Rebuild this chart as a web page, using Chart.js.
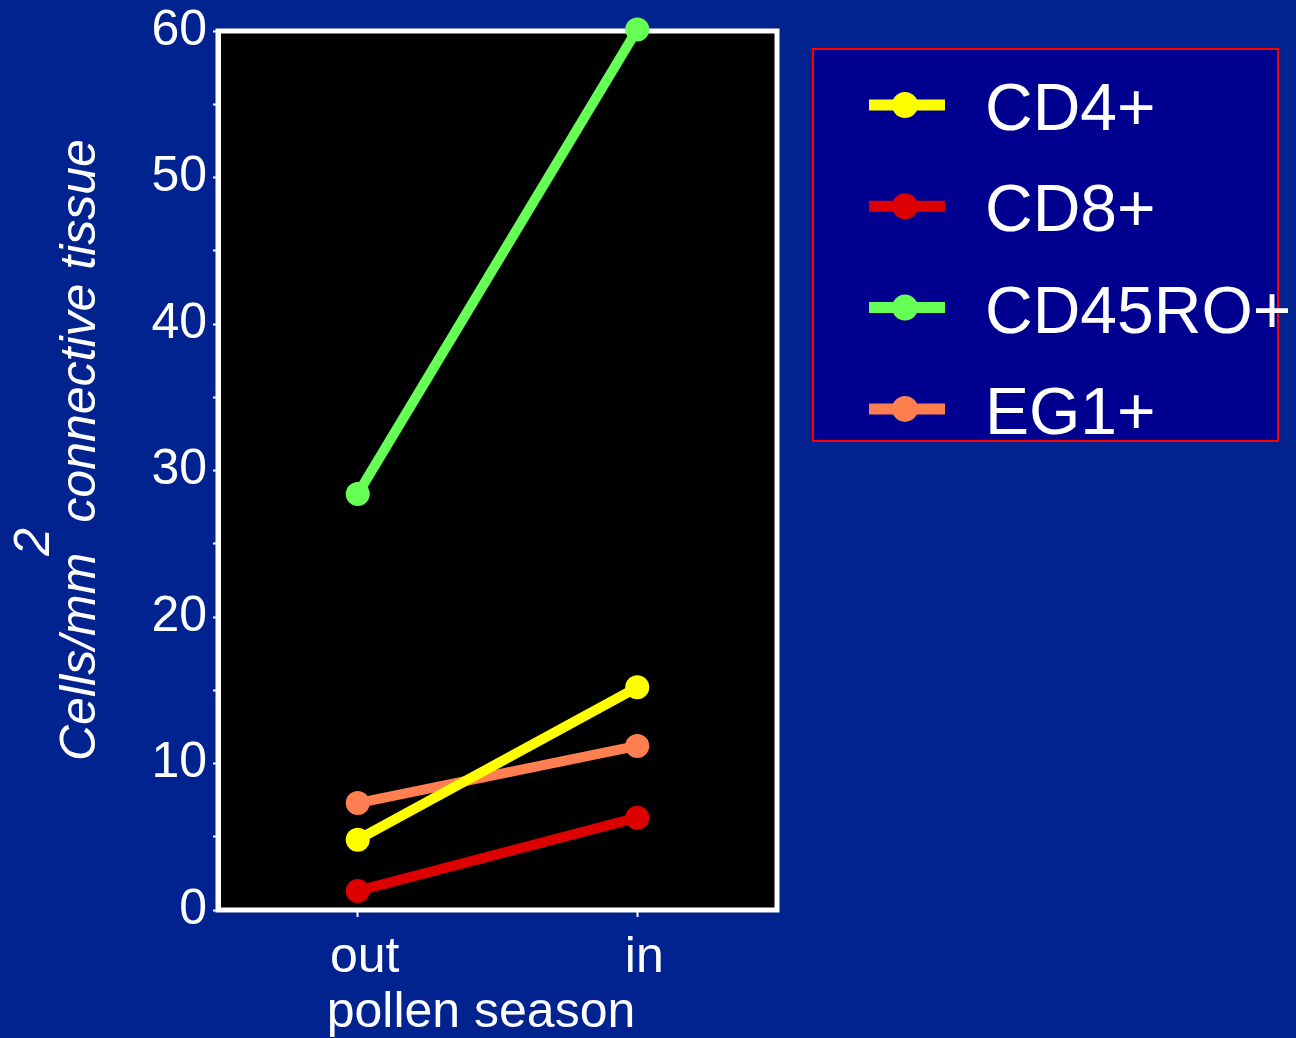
<!DOCTYPE html>
<html>
<head>
<meta charset="utf-8">
<script src="https://cdn.jsdelivr.net/npm/chart.js@4.4.1/dist/chart.umd.min.js"></script>
<style>
  html, body { margin: 0; padding: 0; background: #00238f; }
</style>
</head>
<body>
<canvas id="chart" width="1296" height="1038"></canvas>
<script>
// Data
const seasons = ['out', 'in'];
const seriesNames = ['CD4+', 'CD8+', 'CD45RO+', 'EG1+'];
const cd4 = [4.8, 15.2];
const cd8 = [1.3, 6.3];
const cd45ro = [28.4, 60.1];
const eg1 = [7.3, 11.2];
const yMajorTicks = [0, 10, 20, 30, 40, 50, 60];

const seriesColors = ['#ffff00', '#dd0000', '#66ff55', '#ff7f50'];
const seriesValues = [cd4, cd8, cd45ro, eg1];

const FONT = '"Liberation Sans", Arial, sans-serif';
const BG = '#00238f';

// background, black plot box and white frame
const framePlugin = {
  id: 'frame',
  beforeDraw(chart) {
    const { ctx, chartArea: a } = chart;
    ctx.save();
    ctx.fillStyle = BG;
    ctx.fillRect(0, 0, chart.width, chart.height);
    ctx.fillStyle = '#000';
    ctx.fillRect(a.left, a.top, a.right - a.left, a.bottom - a.top);
    ctx.restore();
  },
  beforeDatasetsDraw(chart) {
    const { ctx, chartArea: a } = chart;
    ctx.save();
    ctx.strokeStyle = '#fff';
    ctx.lineWidth = 5;
    ctx.strokeRect(a.left, a.top, a.right - a.left, a.bottom - a.top);
    ctx.restore();
  }
};

// axis titles (with the raised "2") and the boxed legend
const textPlugin = {
  id: 'texts',
  afterDraw(chart) {
    const ctx = chart.ctx;
    ctx.save();
    ctx.fillStyle = '#fff';

    // y title
    ctx.save();
    ctx.font = 'italic 50px ' + FONT;
    ctx.translate(81, 761);
    ctx.rotate(-Math.PI / 2);
    ctx.textAlign = 'left';
    ctx.textBaseline = 'middle';
    ctx.fillText('Cells/mm', 0, 0);
    const w1 = ctx.measureText('Cells/mm').width;
    ctx.fillText('2', w1 - 3, -46);
    ctx.fillText('connective tissue', w1 + 30, 0);
    ctx.restore();

    // x title
    ctx.font = '50px ' + FONT;
    ctx.textAlign = 'center';
    ctx.textBaseline = 'alphabetic';
    ctx.fillText('pollen season', 481, 1027);

    // legend box
    ctx.fillStyle = '#000090';
    ctx.fillRect(813, 49, 465, 392);
    ctx.strokeStyle = '#ff0000';
    ctx.lineWidth = 2;
    ctx.strokeRect(813, 49, 465, 392);

    chart.data.datasets.forEach((ds, i) => {
      const cy = 105 + i * 101.3;
      ctx.strokeStyle = ds.borderColor;
      ctx.lineWidth = 11;
      ctx.beginPath();
      ctx.moveTo(869, cy);
      ctx.lineTo(945, cy);
      ctx.stroke();
      ctx.fillStyle = ds.borderColor;
      ctx.beginPath();
      ctx.arc(905, cy, 13, 0, Math.PI * 2);
      ctx.fill();
      ctx.fillStyle = '#fff';
      ctx.font = '66px ' + FONT;
      ctx.textAlign = 'left';
      ctx.textBaseline = 'alphabetic';
      ctx.fillText(ds.label, 985, cy + 25);
    });
    ctx.restore();
  }
};

const datasets = seriesNames.map((name, i) => ({
  label: name,
  data: seriesValues[i],
  borderColor: seriesColors[i],
  backgroundColor: seriesColors[i],
  pointBackgroundColor: seriesColors[i],
  pointBorderColor: seriesColors[i],
  borderWidth: 10,
  borderCapStyle: 'butt',
  pointRadius: 12,
  pointBorderWidth: 0,
  tension: 0,
  clip: false
}));

new Chart(document.getElementById('chart'), {
  type: 'line',
  data: { labels: seasons, datasets: datasets },
  plugins: [framePlugin, textPlugin],
  options: {
    responsive: false,
    animation: false,
    layout: { padding: { left: 0, top: 28, right: 519, bottom: 0 } },
    plugins: {
      legend: { display: false },
      tooltip: { enabled: false }
    },
    scales: {
      x: {
        type: 'category',
        offset: true,
        grid: {
          drawOnChartArea: false,
          drawTicks: true,
          tickLength: 7,
          tickColor: '#fff',
          tickWidth: 2
        },
        border: { display: false },
        ticks: {
          color: '#fff',
          font: { family: FONT, size: 50, lineHeight: 1.2 },
          padding: 11,
          labelOffset: 7,
          maxRotation: 0
        },
        afterFit(s) { s.height = 128; }
      },
      y: {
        min: 0,
        max: 60,
        grid: {
          drawOnChartArea: false,
          drawTicks: true,
          tickLength: 5,
          tickColor: '#fff',
          tickWidth: 2
        },
        border: { display: true, color: '#fff', width: 5 },
        ticks: {
          stepSize: 5,
          autoSkip: false,
          color: '#fff',
          font: { family: FONT, size: 50, lineHeight: 1 },
          padding: 6,
          callback: v => yMajorTicks.includes(v) ? String(v) : ''
        },
        afterFit(s) { s.width = 218; }
      }
    }
  }
});
</script>
</body>
</html>
